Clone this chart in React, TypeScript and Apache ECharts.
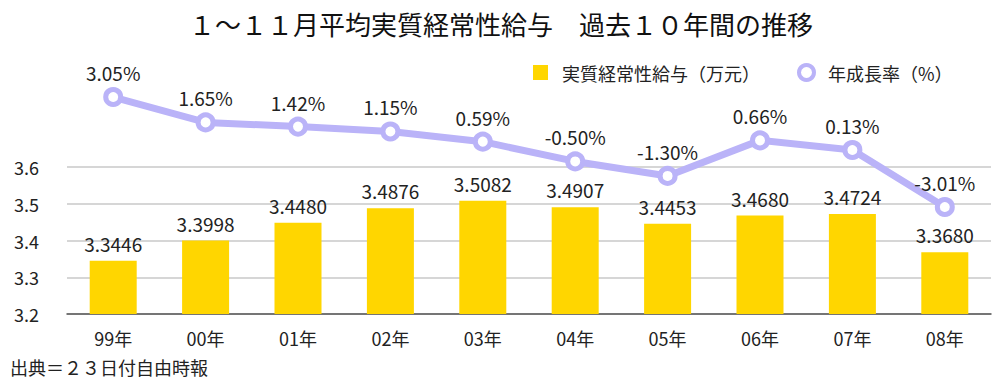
import React, { useEffect, useRef } from "react";
import * as echarts from "echarts";

const categories = ["99年", "00年", "01年", "02年", "03年", "04年", "05年", "06年", "07年", "08年"];
const salary = [3.3446, 3.3998, 3.448, 3.4876, 3.5082, 3.4907, 3.4453, 3.468, 3.4724, 3.368];
const growth = [3.05, 1.65, 1.42, 1.15, 0.59, -0.5, -1.3, 0.66, 0.13, -3.01];
const title = "１～１１月平均実質経常性給与　過去１０年間の推移";
const source = "出典＝２３日付自由時報";

const FONT = "'Noto Sans CJK JP', 'Noto Sans', sans-serif";
const LINE_COLOR = "#BAB3F8";

export default function App() {
  const ref = useRef<HTMLDivElement>(null);
  useEffect(() => {
    const chart = echarts.init(ref.current!, null, { renderer: "svg" });
    chart.setOption({
      animation: false,
      textStyle: { fontFamily: FONT },
      title: {
        text: title,
        left: "center",
        top: 5,
        textStyle: { fontFamily: FONT, fontSize: 26, fontWeight: "normal", color: "#111" },
      },
      legend: {
        top: 58,
        left: 528,
        itemGap: 37,
        itemWidth: 15,
        itemHeight: 15,
        textStyle: { fontFamily: FONT, fontSize: 18, color: "#222", padding: [0, 0, 0, 9] },
        data: [
          { name: "実質経常性給与（万元）", icon: "rect" },
          {
            name: "年成長率（%）",
            icon: "circle",
            itemStyle: { color: "#fff", borderColor: LINE_COLOR, borderWidth: 4 },
          },
        ],
      },
      graphic: [
        {
          type: "text",
          left: 10,
          top: 358,
          style: { text: source, fontFamily: FONT, fontSize: 18, fill: "#222" },
        },
      ],
      grid: [
        { left: 67, right: 11, top: 167, bottom: 67 },
        { left: 67, right: 11, top: 93.5, bottom: 67 },
      ],
      xAxis: [
        {
          type: "category",
          gridIndex: 0,
          data: categories,
          axisLine: { onZero: false, lineStyle: { color: "#555", width: 1.5 } },
          axisTick: { show: false },
          axisLabel: { fontFamily: FONT, fontSize: 18, color: "#222", margin: 15 },
        },
        {
          type: "category",
          gridIndex: 1,
          data: categories,
          show: false,
        },
      ],
      yAxis: [
        {
          type: "value",
          gridIndex: 0,
          min: 3.2,
          max: 3.6,
          interval: 0.1,
          splitLine: { show: true, lineStyle: { color: "#c8c8c8", width: 1.5 } },
          axisLine: { show: false },
          axisTick: { show: false },
          axisLabel: {
            fontFamily: FONT,
            fontSize: 18,
            color: "#222",
            margin: 28,
            formatter: (v: number) => v.toFixed(1),
          },
        },
        {
          type: "value",
          gridIndex: 1,
          min: -8.906,
          max: 3.243,
          show: false,
          splitLine: { show: false },
        },
      ],
      series: [
        {
          name: "実質経常性給与（万元）",
          type: "bar",
          xAxisIndex: 0,
          yAxisIndex: 0,
          data: salary,
          barWidth: 47,
          itemStyle: { color: "#FFD600" },
          label: {
            show: true,
            position: "top",
            distance: 8,
            fontFamily: FONT,
            fontSize: 19,
            color: "#222",
            formatter: (p: any) => p.value.toFixed(4),
          },
          z: 2,
        },
        {
          name: "年成長率（%）",
          type: "line",
          xAxisIndex: 1,
          yAxisIndex: 1,
          data: growth,
          symbol: "circle",
          symbolSize: 15,
          lineStyle: { color: LINE_COLOR, width: 7 },
          itemStyle: { color: "#fff", borderColor: LINE_COLOR, borderWidth: 5 },
          label: {
            show: true,
            position: "top",
            distance: 5,
            fontFamily: FONT,
            fontSize: 19,
            color: "#222",
            formatter: (p: any) => p.value.toFixed(2) + "%",
          },
          z: 3,
        },
      ],
    });
    return () => chart.dispose();
  }, []);
  return <div ref={ref} style={{ width: 1002, height: 381, position: "absolute", left: 0, top: 0 }} />;
}
